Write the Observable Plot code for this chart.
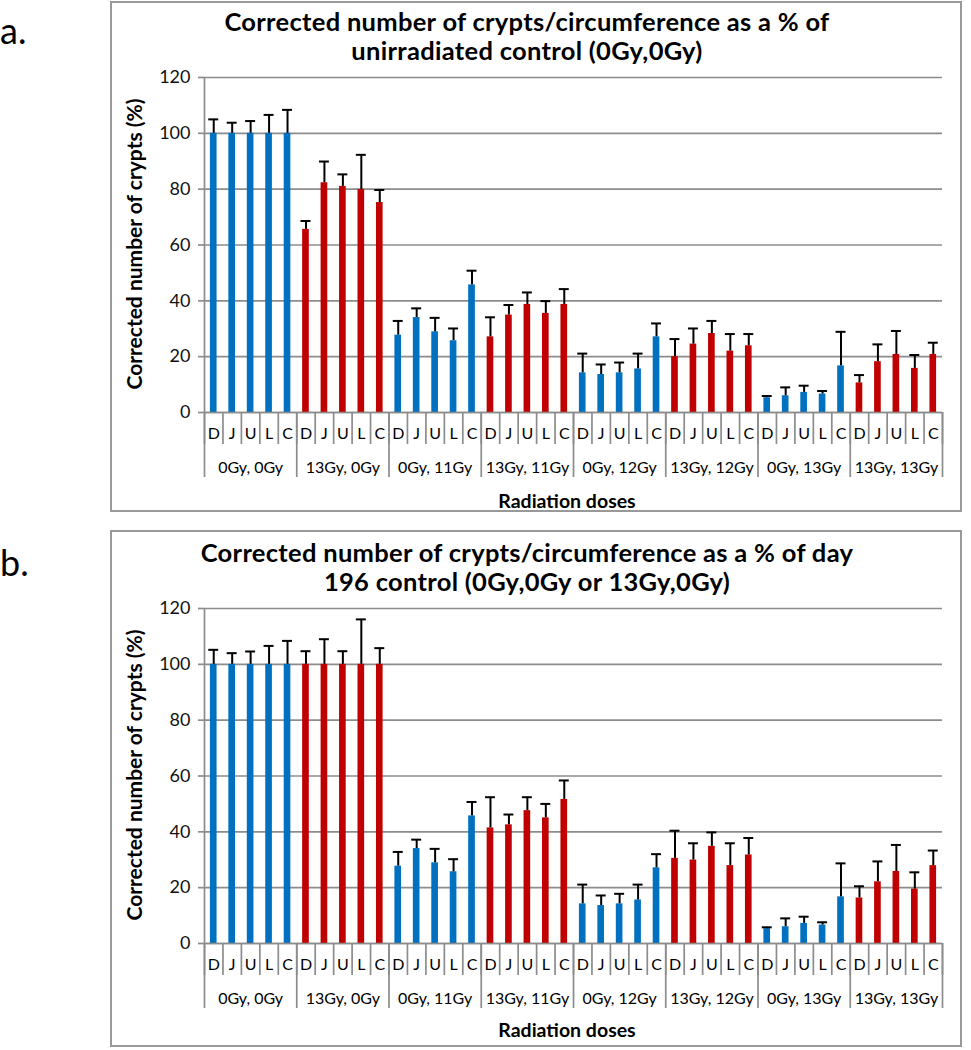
<!DOCTYPE html>
<html>
<head>
<meta charset="utf-8">
<script src="https://cdn.jsdelivr.net/npm/d3@7"></script>
<script src="https://cdn.jsdelivr.net/npm/@observablehq/plot@0.6"></script>
<style>
  html, body { margin: 0; padding: 0; background: #fff; }
  body { width: 971px; height: 1050px; position: relative; overflow: hidden; font-family: Lato, "Open Sans", sans-serif; color: #000; }
  .tag { position: absolute; left: 0; font-size: 36px; line-height: 36px; }
  .panel { position: absolute; left: 110px; width: 852px; box-sizing: border-box; border: 2px solid #999; background: #fff; }
  .title { position: absolute; left: 0; width: 830px; text-align: center; font-weight: bold; font-size: 25.5px; line-height: 29px; letter-spacing: 0.3px; }
  .ylab { position: absolute; left: 21px; width: 0; height: 0; }
  .ylab span { position: absolute; white-space: nowrap; transform: translate(-50%, -50%) rotate(-90deg); font-weight: bold; font-size: 21px; }
  .xlab { position: absolute; left: 455px; width: 0; height: 0; }
  .xlab span { position: absolute; white-space: nowrap; transform: translate(-50%, -50%); font-weight: bold; font-size: 19.5px; }
  .chart { position: absolute; left: 0; }
</style>
</head>
<body>
<div class="tag" style="top:12px">a.</div>
<div class="tag" style="top:544px">b.</div>

<div class="panel" id="pa" style="top:1px;height:511px">
  <div class="title" style="top:4px">Corrected number of crypts/circumference as a % of<br>unirradiated control (0Gy,0Gy)</div>
  <div class="ylab" style="top:241px"><span>Corrected number of crypts (%)</span></div>
  <div class="xlab" style="top:497px"><span>Radiation doses</span></div>
  <div class="chart" id="ca" style="top:58px"></div>
</div>

<div class="panel" id="pb" style="top:530px;height:517px">
  <div class="title" style="top:6px">Corrected number of crypts/circumference as a % of day<br>196 control (0Gy,0Gy or 13Gy,0Gy)</div>
  <div class="ylab" style="top:243px"><span>Corrected number of crypts (%)</span></div>
  <div class="xlab" style="top:497px"><span>Radiation doses</span></div>
  <div class="chart" id="cb" style="top:60px"></div>
</div>

<script>
const groups = ["0Gy, 0Gy", "13Gy, 0Gy", "0Gy, 11Gy", "13Gy, 11Gy", "0Gy, 12Gy", "13Gy, 12Gy", "0Gy, 13Gy", "13Gy, 13Gy"];
const days = ["D", "J", "U", "L", "C"];
const yTicks = [0, 20, 40, 60, 80, 100, 120];

// Panel a: % of unirradiated control (0Gy,0Gy)
const valuesA = [
  100, 100, 100, 100, 100,
  65.6, 82.3, 81.0, 79.9, 75.2,
  27.7, 34.0, 28.9, 25.7, 45.7,
  27.1, 34.9, 38.7, 35.5, 38.7,
  14.2, 13.6, 14.2, 15.6, 27.1,
  20.0, 24.5, 28.3, 22.0, 23.9,
  5.3, 6.0, 7.2, 6.6, 16.7,
  10.6, 18.2, 20.8, 15.8, 20.8
];
const errorsA = [
  5.0, 3.8, 4.4, 6.6, 8.4,
  3.0, 7.6, 4.3, 12.4, 4.5,
  5.1, 3.3, 5.0, 4.4, 5.1,
  7.0, 3.6, 4.3, 4.4, 5.5,
  6.9, 3.6, 3.7, 5.5, 4.8,
  6.3, 5.6, 4.5, 6.1, 4.2,
  0.6, 3.0, 2.4, 1.1, 12.2,
  2.8, 6.2, 8.4, 4.8, 4.2
];

// Panel b: % of day 196 control (0Gy,0Gy or 13Gy,0Gy)
const valuesB = [
  100, 100, 100, 100, 100,
  100, 100, 100, 100, 100,
  27.7, 34.0, 28.9, 25.7, 45.7,
  41.4, 42.5, 47.6, 45.0, 51.6,
  14.2, 13.6, 14.2, 15.6, 27.1,
  30.5, 29.9, 34.8, 27.9, 31.7,
  5.3, 6.0, 7.2, 6.6, 16.7,
  16.3, 22.1, 25.8, 19.5, 27.9
];
const errorsB = [
  5.2, 4.0, 4.6, 6.6, 8.4,
  4.7, 9.0, 4.7, 16.1, 5.8,
  5.1, 3.2, 5.0, 4.5, 5.0,
  11.0, 3.7, 4.8, 5.0, 6.8,
  6.9, 3.6, 3.6, 5.5, 4.9,
  9.9, 6.0, 5.0, 8.0, 6.1,
  0.5, 3.0, 2.4, 1.0, 12.0,
  4.2, 7.3, 9.5, 6.0, 5.4
];

const blue = "#0070C0";
const red = "#C00000";
const grey = "#8c8c8c";

function rows(values, errors) {
  return values.map((v, i) => ({
    i,
    group: groups[Math.floor(i / days.length)],
    day: days[i % days.length],
    value: v,
    err: errors[i]
  }));
}

function chart(values, errors) {
  const data = rows(values, errors);
  const n = data.length;
  return Plot.plot({
    width: 848,
    height: 450,
    marginLeft: 92,
    marginRight: 18,
    marginTop: 16,
    marginBottom: 99,
    x: {domain: [0, n], axis: null},
    y: {domain: [0, 120], axis: null},
    style: {fontFamily: "Lato, 'Open Sans', sans-serif", color: "#000", background: "transparent", overflow: "visible"},
    marks: [
      Plot.gridY(yTicks, {stroke: grey, strokeOpacity: 1, strokeWidth: 1.7}),
      Plot.axisY({ticks: yTicks, tickSize: 6, tickPadding: 8, stroke: grey, strokeOpacity: 1, strokeWidth: 1.7, fontSize: 18, fill: "#111", label: null}),
      Plot.ruleX([0], {stroke: grey, strokeWidth: 1.7}),
      Plot.rectY(data, {
        x1: "i",
        x2: d => d.i + 1,
        y1: 0,
        y2: "value",
        fill: d => d.group.startsWith("13Gy") ? red : blue,
        insetLeft: 5.9,
        insetRight: 5.9
      }),
      Plot.ruleX(data, {x: d => d.i + 0.5, y1: "value", y2: d => d.value + d.err, stroke: "#000", strokeWidth: 2}),
      Plot.ruleY(data, {y: d => d.value + d.err, x1: d => d.i + 0.23, x2: d => d.i + 0.77, stroke: "#000", strokeWidth: 2}),
      Plot.axisX({ticks: d3.range(0, n + 1), tickSize: 32, tickFormat: () => "", stroke: grey, strokeOpacity: 1, strokeWidth: 1.7, label: null}),
      Plot.axisX({ticks: d3.range(0, n + 1, days.length), tickSize: 65, tickFormat: () => "", stroke: grey, strokeOpacity: 1, strokeWidth: 1.7, label: null}),
      Plot.axisX({ticks: d3.range(0.5, n, 1), tickSize: 0, tickPadding: 15, tickFormat: d => days[Math.floor(d) % days.length], fontSize: 16, fill: "#000", label: null}),
      Plot.axisX({ticks: d3.range(days.length / 2, n, days.length), tickSize: 0, tickPadding: 49, tickFormat: d => groups[Math.floor(d / days.length)], fontSize: 16, fill: "#000", label: null}),
      Plot.ruleY([0], {stroke: grey, strokeWidth: 1.7})
    ]
  });
}

document.getElementById("ca").appendChild(chart(valuesA, errorsA));
document.getElementById("cb").appendChild(chart(valuesB, errorsB));
</script>
</body>
</html>
